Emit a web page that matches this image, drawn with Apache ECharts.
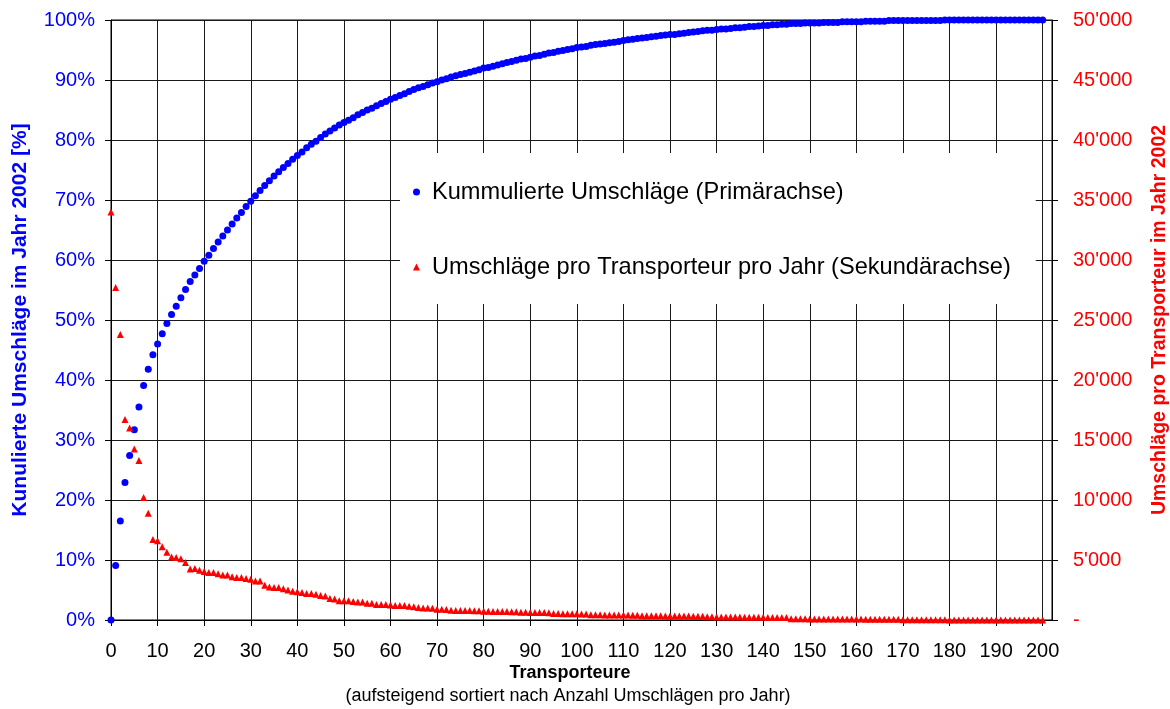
<!DOCTYPE html>
<html>
<head>
<meta charset="utf-8">
<script src="https://cdn.jsdelivr.net/npm/echarts@6/dist/echarts.min.js"></script>
<style>
  html, body { margin: 0; padding: 0; background: #fff; }
  #chart { width: 1170px; height: 709px; }
</style>
</head>
<body>
<div id="chart"></div>
<script>
// Kumulierte Umschläge [%] je Transporteur-Rang (0..200)
const kumuliert = [
  0.0, 9.1, 16.5, 22.9, 27.4, 31.7, 35.5, 39.1, 41.8, 44.2,
  46.0, 47.7, 49.4, 50.9, 52.3, 53.7, 55.1, 56.4, 57.5, 58.6,
  59.8, 60.8, 61.9, 63.0, 64.0, 65.0, 66.0, 67.0, 67.9, 68.9,
  69.8, 70.7, 71.6, 72.4, 73.2, 74.0, 74.7, 75.4, 76.1, 76.8,
  77.4, 78.0, 78.7, 79.3, 79.8, 80.4, 81.0, 81.5, 82.0, 82.5,
  82.9, 83.3, 83.7, 84.2, 84.6, 85.0, 85.3, 85.7, 86.1, 86.4,
  86.8, 87.1, 87.4, 87.7, 88.1, 88.4, 88.7, 88.9, 89.2, 89.5,
  89.7, 90.0, 90.2, 90.5, 90.7, 90.9, 91.1, 91.3, 91.5, 91.7,
  92.0, 92.1, 92.3, 92.5, 92.7, 92.9, 93.1, 93.3, 93.5, 93.6,
  93.8, 94.0, 94.1, 94.3, 94.5, 94.6, 94.8, 94.9, 95.1, 95.2,
  95.4, 95.5, 95.6, 95.8, 95.9, 96.0, 96.1, 96.2, 96.3, 96.4,
  96.6, 96.7, 96.8, 96.9, 97.0, 97.1, 97.2, 97.3, 97.4, 97.5,
  97.6, 97.6, 97.7, 97.8, 97.9, 98.0, 98.1, 98.2, 98.3, 98.3,
  98.4, 98.5, 98.5, 98.6, 98.7, 98.7, 98.8, 98.9, 98.9, 99.0,
  99.1, 99.1, 99.2, 99.2, 99.3, 99.3, 99.4, 99.4, 99.4, 99.5,
  99.5, 99.5, 99.5, 99.6, 99.6, 99.6, 99.6, 99.7, 99.7, 99.7,
  99.7, 99.7, 99.8, 99.8, 99.8, 99.8, 99.8, 99.9, 99.9, 99.9,
  99.9, 99.9, 99.9, 99.9, 99.9, 99.9, 99.9, 99.9, 99.9, 100.0,
  100.0, 100.0, 100.0, 100.0, 100.0, 100.0, 100.0, 100.0, 100.0, 100.0,
  100.0, 100.0, 100.0, 100.0, 100.0, 100.0, 100.0, 100.0, 100.0, 100.0,
  100.0
];

// Umschläge pro Transporteur pro Jahr (0..200)
const umschlaege = [
  34000, 27700, 23800, 16700, 16000, 14250, 13300, 10200, 8900, 6700,
  6600, 6100, 5650, 5250, 5200, 5100, 4800, 4250, 4300, 4150,
  4050, 3950, 3950, 3850, 3750, 3750, 3600, 3550, 3550, 3450,
  3400, 3250, 3250, 2900, 2750, 2700, 2700, 2600, 2500, 2400,
  2350, 2300, 2200, 2200, 2150, 2050, 2000, 1800, 1750, 1600,
  1600, 1600, 1550, 1500, 1500, 1400, 1400, 1300, 1300, 1300,
  1250, 1200, 1200, 1200, 1150, 1100, 1050, 1000, 1000, 980,
  900, 900, 880, 820, 800, 800, 790, 790, 780, 780,
  720, 720, 710, 710, 700, 700, 690, 690, 640, 640,
  630, 630, 620, 620, 610, 540, 540, 530, 530, 520,
  520, 510, 510, 430, 430, 430, 420, 420, 420, 410,
  410, 410, 400, 400, 360, 360, 350, 350, 350, 340,
  340, 340, 330, 330, 330, 320, 320, 320, 270, 270,
  260, 260, 260, 250, 250, 250, 230, 230, 220, 220,
  220, 210, 210, 210, 200, 200, 100, 100, 100, 100,
  90, 90, 90, 90, 90, 90, 80, 80, 80, 80,
  80, 80, 70, 70, 70, 70, 70, 70, 60, 60,
  20, 20, 20, 20, 20, 20, 20, 20, 20, 20,
  10, 10, 10, 10, 10, 10, 10, 10, 10, 10,
  0, 0, 0, 0, 0, 0, 0, 0, 0, 0,
  0
];

const seriesNames = [
  'Kummulierte Umschläge (Primärachse)',
  'Umschläge pro Transporteur pro Jahr (Sekundärachse)'
];
const axisTitles = {
  x: 'Transporteure',
  xSub: '(aufsteigend sortiert nach Anzahl Umschlägen pro Jahr)',
  yLeft: 'Kunulierte Umschläge im Jahr 2002 [%]',
  yRight: 'Umschläge pro Transporteur im Jahr 2002'
};

const FONT = '"Liberation Sans", Arial, sans-serif';
const BLUE = '#0000ff';
const RED = '#ff0000';

function fmtThousands(v) {
  if (v === 0) return '-';
  return String(v).replace(/\B(?=(\d{3})+(?!\d))/g, "'");
}

const chart = echarts.init(document.getElementById('chart'), null, { renderer: 'canvas' });

chart.setOption({
  animation: false,
  backgroundColor: '#fff',
  textStyle: { fontFamily: FONT },
  grid: {
    left: 111, right: 118, top: 20, bottom: 89,
    containLabel: false, outerBoundsMode: 'none',
    show: true, borderColor: '#000', borderWidth: 1, backgroundColor: 'transparent'
  },
  legend: {
    orient: 'vertical',
    left: 400, top: 153,
    backgroundColor: '#fff',
    padding: [27, 25, 25, 13],
    itemGap: 51,
    itemWidth: 7, itemHeight: 7,
    selectedMode: false,
    textStyle: { fontSize: 23.6, color: '#000', fontFamily: FONT, padding: [0, 0, 0, 7] },
    data: [
      { name: seriesNames[0], icon: 'circle' },
      { name: seriesNames[1], icon: 'triangle' }
    ]
  },
  xAxis: {
    type: 'value', min: 0, max: 202, interval: 10,
    axisLine: { show: true, lineStyle: { color: '#000', width: 1 } },
    axisTick: { show: true, inside: false, length: 6, lineStyle: { color: '#000' } },
    axisLabel: {
      color: '#000', fontSize: 20, margin: 21, fontFamily: FONT,
      showMaxLabel: false,
      formatter: v => (v % 10 === 0 ? String(v) : '')
    },
    splitLine: { show: true, lineStyle: { color: '#1a1a1a', width: 1 } }
  },
  yAxis: [
    {
      type: 'value', min: 0, max: 100, interval: 10, position: 'left',
      name: axisTitles.yLeft, nameLocation: 'middle', nameRotate: 90, nameGap: 80,
      nameTextStyle: { color: BLUE, fontSize: 21, fontWeight: 'bold', fontFamily: FONT },
      axisLine: { show: true, lineStyle: { color: '#000' } },
      axisTick: { show: true, length: 6, lineStyle: { color: '#000' } },
      axisLabel: { color: BLUE, fontSize: 20, margin: 16, fontFamily: FONT, formatter: '{value}%' },
      splitLine: { show: true, lineStyle: { color: '#1a1a1a', width: 1 } }
    },
    {
      type: 'value', min: 0, max: 50000, interval: 5000, position: 'right',
      name: axisTitles.yRight, nameLocation: 'middle', nameRotate: 90, nameGap: 98,
      nameTextStyle: { color: RED, fontSize: 19.5, fontWeight: 'bold', fontFamily: FONT },
      axisLine: { show: true, lineStyle: { color: '#000' } },
      axisTick: { show: true, length: 6, lineStyle: { color: '#000' } },
      axisLabel: { color: RED, fontSize: 20, margin: 21, fontFamily: FONT, formatter: fmtThousands },
      splitLine: { show: false }
    }
  ],
  graphic: [
    {
      type: 'text', x: 570, y: 673, z: 10,
      style: { text: axisTitles.x, fill: '#000', font: 'bold 18px ' + FONT, textAlign: 'center', textVerticalAlign: 'middle' }
    },
    {
      type: 'text', x: 568, y: 696, z: 10,
      style: { text: axisTitles.xSub, fill: '#000', font: '18px ' + FONT, textAlign: 'center', textVerticalAlign: 'middle' }
    }
  ],
  series: [
    {
      name: seriesNames[0], type: 'scatter', yAxisIndex: 0,
      symbol: 'circle', symbolSize: 7,
      itemStyle: { color: BLUE, opacity: 1 },
      data: kumuliert.map((v, i) => [i, v])
    },
    {
      name: seriesNames[1], type: 'scatter', yAxisIndex: 1,
      symbol: 'triangle', symbolSize: 7,
      itemStyle: { color: RED, opacity: 1 },
      data: umschlaege.map((v, i) => [i, v])
    }
  ]
});
</script>
</body>
</html>
